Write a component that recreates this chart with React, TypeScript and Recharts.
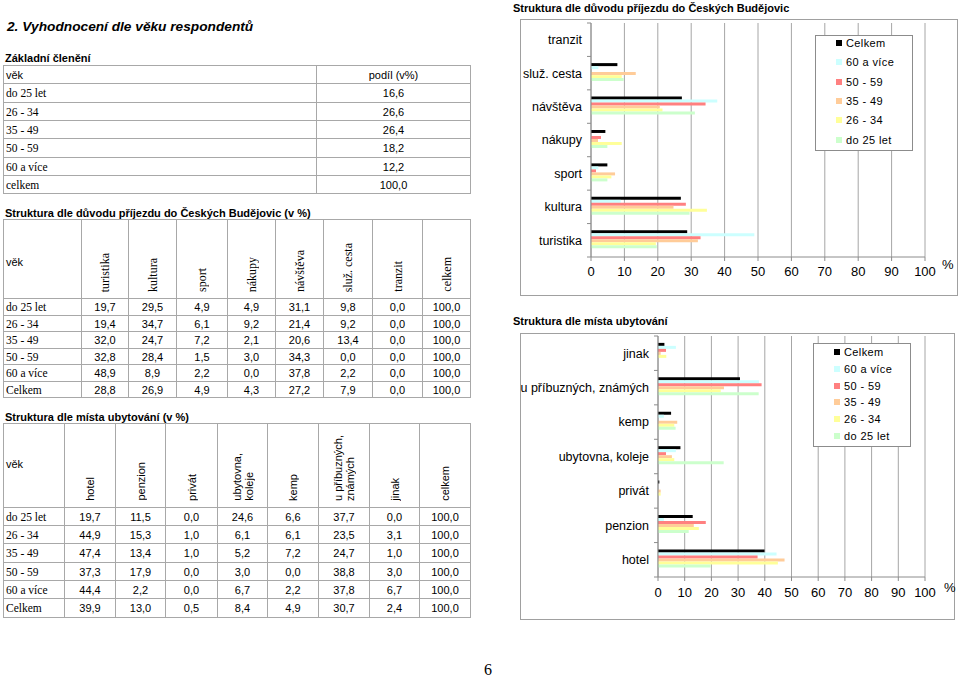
import React from "react";
import { BarChart, Bar, XAxis, YAxis, CartesianGrid } from "recharts";

const ARIAL = "'Liberation Sans', Arial, sans-serif";
const TIMES = "'Liberation Serif', 'Times New Roman', serif";
const LINE = "#a8a8a8";
const AXIS = "#8c8c8c";

// Základní členění
const AGES = ["do 25 let", "26 - 34", "35 - 49", "50 - 59", "60 a více"];
const ROWS = [...AGES, "Celkem"];
const SHARE = [16.6, 26.6, 26.4, 18.2, 12.2];
const SHARE_TOTAL = 100.0;

// důvod příjezdu (pořadí sloupců tabulky)
const REASONS = ["turistika", "kultura", "sport", "nákupy", "návštěva", "služ. cesta", "tranzit"];
const reasonU25 = [19.7, 29.5, 4.9, 4.9, 31.1, 9.8, 0.0];
const reason2634 = [19.4, 34.7, 6.1, 9.2, 21.4, 9.2, 0.0];
const reason3549 = [32.0, 24.7, 7.2, 2.1, 20.6, 13.4, 0.0];
const reason5059 = [32.8, 28.4, 1.5, 3.0, 34.3, 0.0, 0.0];
const reason60 = [48.9, 8.9, 2.2, 0.0, 37.8, 2.2, 0.0];
const reasonAll = [28.8, 26.9, 4.9, 4.3, 27.2, 7.9, 0.0];

// místo ubytování
const STAYS = ["hotel", "penzion", "privát", "ubytovna, koleje", "kemp", "u příbuzných, známých", "jinak"];
const STAY_HEAD = ["hotel", "penzion", "privát", "ubytovna,\nkoleje", "kemp", "u příbuzných,\nznámých", "jinak"];
const stayU25 = [19.7, 11.5, 0.0, 24.6, 6.6, 37.7, 0.0];
const stay2634 = [44.9, 15.3, 1.0, 6.1, 6.1, 23.5, 3.1];
const stay3549 = [47.4, 13.4, 1.0, 5.2, 7.2, 24.7, 1.0];
const stay5059 = [37.3, 17.9, 0.0, 3.0, 0.0, 38.8, 3.0];
const stay60 = [44.4, 2.2, 0.0, 6.7, 2.2, 37.8, 6.7];
const stayAll = [39.9, 13.0, 0.5, 8.4, 4.9, 30.7, 2.4];

const X_TICKS = [0, 10, 20, 30, 40, 50, 60, 70, 80, 90, 100];

// pořadí řad v grafu odshora (jako v Excelu)
const SERIES = [
  { key: "all", name: "Celkem", color: "#000000" },
  { key: "a60", name: "60 a více", color: "#ccffff" },
  { key: "a50", name: "50 - 59", color: "#ff8080" },
  { key: "a35", name: "35 - 49", color: "#ffcc99" },
  { key: "a26", name: "26 - 34", color: "#ffff99" },
  { key: "a0", name: "do 25 let", color: "#ccffcc" },
];

const fmt = (v: number) => v.toFixed(1).replace(".", ",");

function chartRows(cats: string[], sets: number[][]) {
  // sets v pořadí: do25, 26-34, 35-49, 50-59, 60+, celkem
  const rows = cats.map((name, i) => ({
    name,
    a0: sets[0][i],
    a26: sets[1][i],
    a35: sets[2][i],
    a50: sets[3][i],
    a60: sets[4][i],
    all: sets[5][i],
  }));
  return rows.reverse();
}

const reasonSets = [reasonU25, reason2634, reason3549, reason5059, reason60, reasonAll];
const staySets = [stayU25, stay2634, stay3549, stay5059, stay60, stayAll];

const abs = (s: React.CSSProperties): React.CSSProperties => ({ position: "absolute", ...s });

function Text({ x, y, children, style }: { x: number; y: number; children: React.ReactNode; style?: React.CSSProperties }) {
  return (
    <div style={abs({ left: x, top: y - 8, height: 16, lineHeight: "16px", whiteSpace: "nowrap", ...style })}>{children}</div>
  );
}

function Grid({ xs, ys }: { xs: number[]; ys: number[] }) {
  const x0 = xs[0], x1 = xs[xs.length - 1], y0 = ys[0], y1 = ys[ys.length - 1];
  return (
    <>
      {xs.map((x, i) => (
        <div key={"v" + i} style={abs({ left: x, top: y0, width: 1, height: y1 - y0 + 1, background: LINE })} />
      ))}
      {ys.map((y, i) => (
        <div key={"h" + i} style={abs({ left: x0, top: y, width: x1 - x0 + 1, height: 1, background: LINE })} />
      ))}
    </>
  );
}

function Cell({ x0, x1, y0, y1, children, align = "center", style }: any) {
  return (
    <div
      style={abs({
        left: x0 + 1,
        top: y0 + 1,
        width: x1 - x0 - 1,
        height: y1 - y0 - 1,
        display: "flex",
        alignItems: "center",
        justifyContent: align === "left" ? "flex-start" : "center",
        paddingLeft: align === "left" ? 2 : 0,
        boxSizing: "border-box",
        fontSize: 11,
        whiteSpace: "nowrap",
        ...style,
      })}
    >
      {children}
    </div>
  );
}

function RotHead({ x0, x1, y0, y1, text, font }: any) {
  return (
    <div
      style={abs({
        left: x0 + 1,
        top: y0 + 1,
        width: x1 - x0 - 1,
        height: y1 - y0 - 1,
        display: "flex",
        alignItems: "flex-end",
        justifyContent: "center",
        paddingBottom: 6,
        boxSizing: "border-box",
      })}
    >
      <span
        style={{
          writingMode: "vertical-rl",
          transform: "rotate(180deg)",
          fontFamily: font,
          fontSize: font === TIMES ? 12 : 11,
          lineHeight: "12px",
          whiteSpace: "pre",
        }}
      >
        {text}
      </span>
    </div>
  );
}

function BasicTable() {
  const xs = [3, 316, 470];
  const ys = [65, 83, 102, 120, 138, 157, 175, 193];
  const vals = [...SHARE, SHARE_TOTAL];
  const labels = [...AGES, "celkem"];
  return (
    <>
      <Grid xs={xs} ys={ys} />
      <Cell x0={xs[0]} x1={xs[1]} y0={ys[0]} y1={ys[1]} align="left" style={{ fontFamily: ARIAL }}>věk</Cell>
      <Cell x0={xs[1]} x1={xs[2]} y0={ys[0]} y1={ys[1]} style={{ fontFamily: ARIAL }}>podíl (v%)</Cell>
      {labels.map((l, i) => (
        <React.Fragment key={l}>
          <Cell x0={xs[0]} x1={xs[1]} y0={ys[i + 1]} y1={ys[i + 2]} align="left" style={{ fontFamily: TIMES, fontSize: 11.5 }}>{l}</Cell>
          <Cell x0={xs[1]} x1={xs[2]} y0={ys[i + 1]} y1={ys[i + 2]} style={{ fontFamily: ARIAL }}>{fmt(vals[i])}</Cell>
        </React.Fragment>
      ))}
    </>
  );
}

function CrossTable({ xs, ys, heads, sets, headFont, vekShift }: { xs: number[]; ys: number[]; heads: string[]; sets: number[][]; headFont: string; vekShift: number }) {
  const allHeads = [...heads, "celkem"];
  return (
    <>
      <Grid xs={xs} ys={ys} />
      <Cell x0={xs[0]} x1={xs[1]} y0={ys[0] + vekShift} y1={ys[1] + vekShift} align="left" style={{ fontFamily: ARIAL }}>věk</Cell>
      {allHeads.map((h, c) => (
        <RotHead key={h} x0={xs[c + 1]} x1={xs[c + 2]} y0={ys[0]} y1={ys[1]} text={h} font={headFont} />
      ))}
      {ROWS.map((r, i) => (
        <React.Fragment key={r}>
          <Cell x0={xs[0]} x1={xs[1]} y0={ys[i + 1]} y1={ys[i + 2]} align="left" style={{ fontFamily: TIMES, fontSize: 11.5 }}>{r}</Cell>
          {[...sets[i], 100].map((v, c) => (
            <Cell key={c} x0={xs[c + 1]} x1={xs[c + 2]} y0={ys[i + 1]} y1={ys[i + 2]} style={{ fontFamily: ARIAL }}>{fmt(v)}</Cell>
          ))}
        </React.Fragment>
      ))}
    </>
  );
}

function LegendBox({ left, top, width, height, step, first }: any) {
  return (
    <div style={abs({ left, top, width, height, border: "1px solid #8c8c8c", background: "#fff", boxSizing: "border-box" })}>
      {SERIES.map((s, i) => (
        <div key={s.key} style={abs({ left: 20, top: first + i * step - 8, height: 16, display: "flex", alignItems: "center" })}>
          <span style={{ display: "inline-block", width: 6, height: 6, background: s.color, marginRight: 4 }} />
          <span style={{ fontFamily: ARIAL, fontSize: 11, letterSpacing: 0.4, whiteSpace: "nowrap" }}>{s.name}</span>
        </div>
      ))}
    </div>
  );
}

function AgeChart({ data, width, height, yWidth, top, xAxisH, right, tickMargin }: any) {
  const plotH = height - top - xAxisH;
  const band = plotH / data.length;
  const YTick = (props: any) => {
    const { y, payload, index } = props;
    const ax = yWidth;
    return (
      <g>
        <text x={ax - 9} y={y} dy="0.35em" textAnchor="end" fontSize={12.5} fontFamily={ARIAL} fill="#000">
          {payload.value}
        </text>
        <line x1={ax - 4} x2={ax} y1={y + band / 2} y2={y + band / 2} stroke={AXIS} />
        {index === 0 && <line x1={ax - 4} x2={ax} y1={y - band / 2} y2={y - band / 2} stroke={AXIS} />}
      </g>
    );
  };
  return (
    <BarChart
      width={width}
      height={height}
      data={data}
      layout="vertical"
      margin={{ top, right, left: 0, bottom: 0 }}
      barCategoryGap="20%"
      barGap={0}
    >
      <CartesianGrid horizontal={false} stroke="#a6a6a6" />
      <XAxis
        type="number"
        domain={[0, 100]}
        ticks={X_TICKS}
        interval={0}
        height={xAxisH}
        tickSize={4}
        tickMargin={tickMargin}
        tick={{ fontSize: 13, fill: "#000", fontFamily: ARIAL }}
        tickLine={{ stroke: AXIS }}
        axisLine={{ stroke: AXIS }}
      />
      <YAxis type="category" dataKey="name" width={yWidth} tick={YTick} tickLine={false} axisLine={{ stroke: AXIS }} interval={0} />
      {SERIES.map((s) => (
        <Bar key={s.key} dataKey={s.key} name={s.name} fill={s.color} isAnimationActive={false} />
      ))}
    </BarChart>
  );
}

export default function App() {
  const reasonData = chartRows(REASONS, reasonSets);
  const stayData = chartRows(STAYS, staySets);
  return (
    <div style={abs({ left: 0, top: 0, width: 960, height: 678, background: "#fff", overflow: "hidden", fontFamily: ARIAL, color: "#000" })}>
      <Text x={7} y={27} style={{ fontSize: 13.7, fontWeight: "bold", fontStyle: "italic" }}>2. Vyhodnocení dle věku respondentů</Text>
      <Text x={5} y={58} style={{ fontSize: 11, fontWeight: "bold" }}>Základní členění</Text>
      <BasicTable />

      <Text x={5} y={213} style={{ fontSize: 11, fontWeight: "bold" }}>Struktura dle důvodu příjezdu do Českých Budějovic (v %)</Text>
      <CrossTable
        xs={[3, 81, 128, 176, 227, 275, 323, 372, 422, 470]}
        ys={[219, 298, 315, 331, 348, 364, 381, 397]}
        heads={REASONS}
        sets={reasonSets}
        headFont={TIMES}
        vekShift={3}
      />

      <Text x={5} y={417} style={{ fontSize: 11, fontWeight: "bold" }}>Struktura dle místa ubytování (v %)</Text>
      <CrossTable
        xs={[3, 64, 115, 165, 217, 267, 318, 369, 419, 470]}
        ys={[423, 507, 525, 543, 562, 580, 598, 617]}
        heads={STAY_HEAD}
        sets={staySets}
        headFont={ARIAL}
        vekShift={-2}
      />

      <Text x={513} y={8} style={{ fontSize: 11, fontWeight: "bold" }}>Struktura dle důvodu příjezdu do Českých Budějovic</Text>
      <div style={abs({ left: 520, top: 19, width: 438, height: 277, border: "1px solid #a0a0a0", boxSizing: "border-box" })} />
      <div style={abs({ left: 520, top: 19 })}>
        <AgeChart data={reasonData} width={438} height={277} yWidth={71} top={4} xAxisH={39} right={33} tickMargin={6} />
      </div>
      <LegendBox left={815} top={35} width={98} height={116} step={19.3} first={7} />
      <Text x={942} y={265} style={{ fontSize: 13 }}>%</Text>

      <Text x={513} y={321} style={{ fontSize: 11, fontWeight: "bold" }}>Struktura dle místa ubytování</Text>
      <div style={abs({ left: 520, top: 333, width: 435, height: 287, border: "1px solid #a0a0a0", boxSizing: "border-box" })} />
      <div style={abs({ left: 520, top: 333 })}>
        <AgeChart data={stayData} width={435} height={287} yWidth={138} top={3} xAxisH={43} right={30} tickMargin={7} />
      </div>
      <LegendBox left={813} top={343} width={98} height={104} step={16.8} first={8} />
      <Text x={944} y={588} style={{ fontSize: 13 }}>%</Text>

      <Text x={484} y={670} style={{ fontFamily: TIMES, fontSize: 16 }}>6</Text>
    </div>
  );
}
